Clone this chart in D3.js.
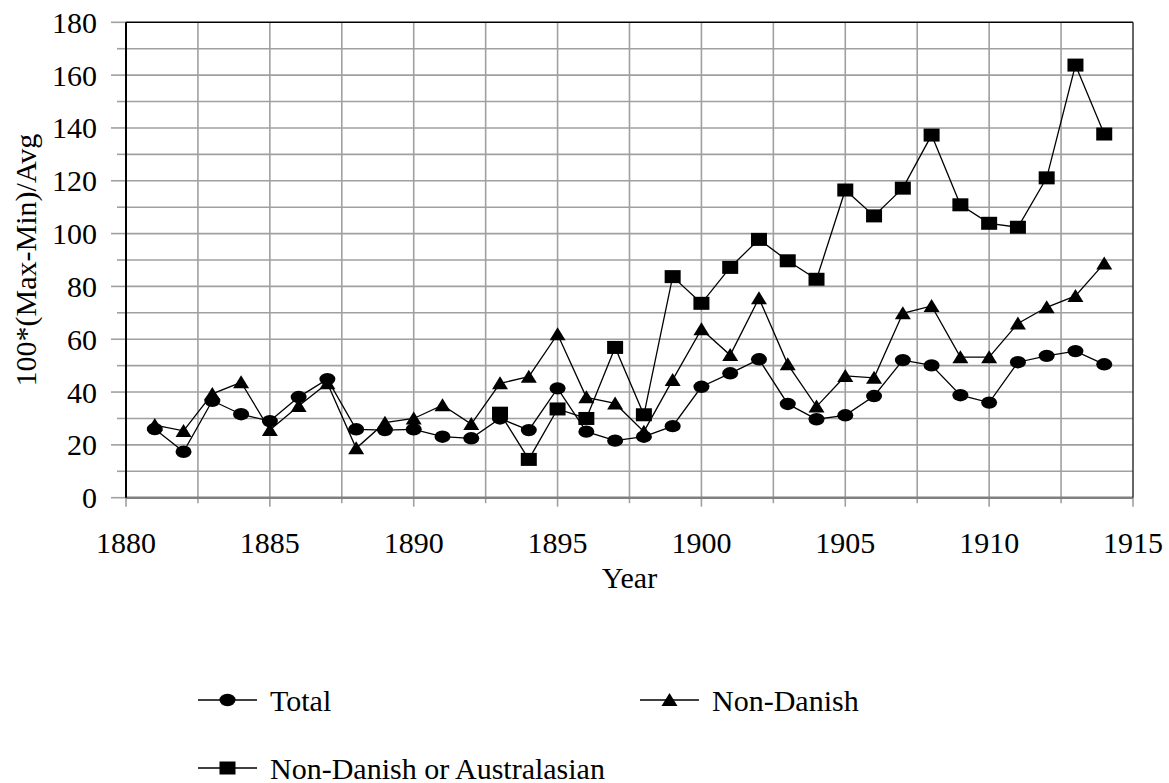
<!DOCTYPE html>
<html lang="en">
<head>
    <meta charset="UTF-8">
    <title>Max-Min spread by year</title>
    <style>
        body {
            margin: 0;
            background: white;
        }
        svg text {
            font-family: "Times New Roman", "Liberation Serif", Tinos, "DejaVu Serif", serif;
            font-size: 30px;
            fill: black;
        }
    </style>
</head>
<body>
    <script src="https://d3js.org/d3.v7.min.js"></script>
    <script type="text/javascript">
        // Data
        var years = d3.range(1881, 1915);
        var total = [26.0, 17.4, 36.7, 31.6, 29.0, 38.1, 44.9, 25.9, 25.6, 25.9,
                     23.1, 22.5, 30.0, 25.6, 41.4, 25.0, 21.6, 23.1, 27.1, 42.0,
                     47.1, 52.4, 35.5, 29.7, 31.2, 38.5, 52.1, 50.1, 38.8, 36.0,
                     51.3, 53.7, 55.5, 50.5];
        var nonDanish = [27.5, 25.3, 39.3, 43.7, 25.6, 34.7, 43.3, 18.7, 28.4, 30.0,
                         35.0, 27.9, 43.3, 45.8, 61.9, 38.0, 35.7, 25.0, 44.6, 63.8,
                         54.0, 75.5, 50.5, 34.5, 46.1, 45.4, 69.8, 72.6, 53.2, 53.2,
                         66.0, 72.1, 76.4, 88.7];
        // this series only starts in 1893
        var ndaYears = d3.range(1893, 1915);
        var nonDanishAus = [32.0, 14.5, 33.6, 30.0, 56.9, 31.4, 83.7, 73.6, 87.2, 97.8,
                            89.7, 82.7, 116.5, 106.7, 117.2, 137.3, 110.9, 103.9, 102.4, 121.1,
                            163.8, 137.7];
        var seriesNames = ["Total", "Non-Danish", "Non-Danish or Australasian"];
        var yTicks = [0, 20, 40, 60, 80, 100, 120, 140, 160, 180];
        var xTicks = [1880, 1885, 1890, 1895, 1900, 1905, 1910, 1915];

        var width = 1169;
        var height = 783;
        // plot area edges (note: "top" is a reserved window name, so use a prefix)
        var pL = 126, pR = 1133, pT = 22.3, pB = 497.7;
        var gridColor = "#a0a0a0";

        var svg = d3.select("body")
                    .append("svg")
                    .attr("width", width)
                    .attr("height", height)
                    .attr("font-family", "Liberation Serif, serif");

        var x = d3.scaleLinear().domain([1880, 1915]).range([pL, pR]);
        var y = d3.scaleLinear().domain([0, 180]).range([pB, pT]);

        // gridlines: every 10 units and every 2.5 years
        svg.append("g").selectAll("line")
            .data(d3.range(10, 180, 10))
            .enter().append("line")
            .attr("x1", pL).attr("x2", pR)
            .attr("y1", d => y(d)).attr("y2", d => y(d))
            .attr("stroke", gridColor).attr("stroke-width", 1.6);

        svg.append("g").selectAll("line")
            .data(d3.range(1882.5, 1915, 2.5))
            .enter().append("line")
            .attr("x1", d => x(d)).attr("x2", d => x(d))
            .attr("y1", pT).attr("y2", pB)
            .attr("stroke", gridColor).attr("stroke-width", 1.6);

        // y axis ticks (major every 20, minor every 10)
        svg.append("g").selectAll("line")
            .data(d3.range(0, 190, 10))
            .enter().append("line")
            .attr("x1", d => d % 20 === 0 ? pL - 15 : pL - 9)
            .attr("x2", pL)
            .attr("y1", d => y(d)).attr("y2", d => y(d))
            .attr("stroke", gridColor).attr("stroke-width", 1.6);

        // x axis ticks (major every 5 years, minor every 2.5)
        svg.append("g").selectAll("line")
            .data(d3.range(1880, 1917, 2.5))
            .enter().append("line")
            .attr("x1", d => x(d)).attr("x2", d => x(d))
            .attr("y1", pB)
            .attr("y2", d => d % 5 === 0 ? pB + 9 : pB + 5.5)
            .attr("stroke", gridColor).attr("stroke-width", 1.6);

        // plot frame
        svg.append("line")
            .attr("x1", pL).attr("x2", pR).attr("y1", pB).attr("y2", pB)
            .attr("stroke", "#808080").attr("stroke-width", 2.5);
        svg.append("line")
            .attr("x1", pL).attr("x2", pR).attr("y1", pT).attr("y2", pT)
            .attr("stroke", "black").attr("stroke-width", 1.5);
        svg.append("line")
            .attr("x1", pR).attr("x2", pR).attr("y1", pT).attr("y2", pB)
            .attr("stroke", "#333").attr("stroke-width", 1.5);
        svg.append("line")
            .attr("x1", pL).attr("x2", pL).attr("y1", pT).attr("y2", pB)
            .attr("stroke", "black").attr("stroke-width", 2);

        // tick labels
        svg.append("g").selectAll("text")
            .data(yTicks)
            .enter().append("text")
            .attr("x", 97)
            .attr("y", d => y(d))
            .attr("dy", "0.35em")
            .attr("text-anchor", "end")
            .text(d => d);

        svg.append("g").selectAll("text")
            .data(xTicks)
            .enter().append("text")
            .attr("x", d => x(d))
            .attr("y", 553)
            .attr("text-anchor", "middle")
            .text(d => d);

        // axis titles
        svg.append("text")
            .attr("x", (pL + pR) / 2)
            .attr("y", 588)
            .attr("text-anchor", "middle")
            .text("Year");

        svg.append("text")
            .attr("transform", "translate(36," + (pT + pB) / 2 + ") rotate(-90)")
            .attr("text-anchor", "middle")
            .text("100*(Max-Min)/Avg");

        // marker shapes, a little wider than tall like the original
        function drawMarker(g, kind) {
            if (kind === 0) {
                g.append("ellipse").attr("rx", 8).attr("ry", 6.2).attr("fill", "black");
            } else if (kind === 1) {
                g.append("path").attr("d", "M0,-7L8,6L-8,6Z").attr("fill", "black");
            } else {
                g.append("rect").attr("x", -8).attr("y", -6.5)
                    .attr("width", 16).attr("height", 13).attr("fill", "black");
            }
        }

        var line = d3.line()
                     .x(d => x(d[0]))
                     .y(d => y(d[1]));

        var series = [
            d3.zip(years, total),
            d3.zip(years, nonDanish),
            d3.zip(ndaYears, nonDanishAus)
        ];

        // draw lines first, then markers (squares under, circles on top)
        series.forEach(function(pts) {
            svg.append("path")
                .datum(pts)
                .attr("d", line)
                .attr("fill", "none")
                .attr("stroke", "black")
                .attr("stroke-width", 1.3);
        });

        [2, 1, 0].forEach(function(k) {
            svg.append("g").selectAll("g")
                .data(series[k])
                .enter().append("g")
                .attr("transform", d => "translate(" + x(d[0]) + "," + y(d[1]) + ")")
                .each(function() { drawMarker(d3.select(this), k); });
        });

        // legend
        var legendPos = [[198, 700], [640, 700], [198, 768]];
        seriesNames.forEach(function(name, i) {
            var g = svg.append("g")
                .attr("transform", "translate(" + legendPos[i][0] + "," + legendPos[i][1] + ")");
            g.append("line")
                .attr("x1", 0).attr("x2", 59)
                .attr("stroke", "black").attr("stroke-width", 1.3);
            var m = g.append("g").attr("transform", "translate(29.5,0)");
            drawMarker(m, i);
            g.append("text")
                .attr("x", 72)
                .attr("dy", "0.35em")
                .text(name);
        });
    </script>
</body>
</html>
